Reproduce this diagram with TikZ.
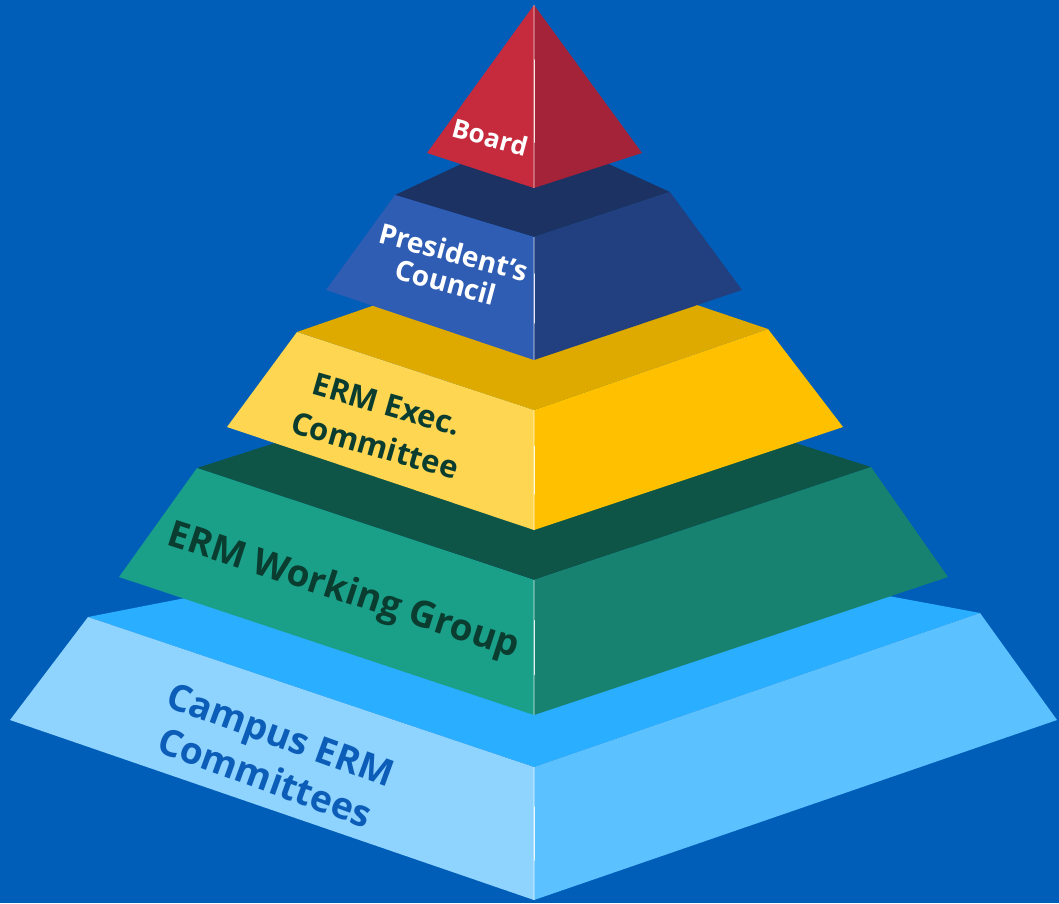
\documentclass[tikz,border=0pt]{standalone}
\usepackage{fontspec}
\setmainfont{Open Sans}
\usetikzlibrary{calc}
\definecolor{bgblue}{HTML}{005EB8}
\definecolor{bdL}{HTML}{C62A3D}
\definecolor{bdR}{HTML}{A42338}
\definecolor{prT}{HTML}{1C3263}
\definecolor{prL}{HTML}{2F5DB4}
\definecolor{prR}{HTML}{22407F}
\definecolor{exT}{HTML}{DEAA00}
\definecolor{exL}{HTML}{FED652}
\definecolor{exR}{HTML}{FFC000}
\definecolor{wgT}{HTML}{0E5547}
\definecolor{wgL}{HTML}{1A9F89}
\definecolor{wgR}{HTML}{16826F}
\definecolor{caT}{HTML}{2AAEFF}
\definecolor{caL}{HTML}{8FD3FF}
\definecolor{caR}{HTML}{5CC2FF}
\definecolor{darkgreen}{HTML}{0A3D30}
\definecolor{campustxt}{HTML}{0B5DB8}
\begin{document}
\begin{tikzpicture}[x=1pt,y=-1pt,
  lbl/.style={align=center, inner sep=0pt},
  hlsoft/.style={white, line width=1.6pt, opacity=0.3},
  hlbright/.style={white, line width=1pt, opacity=0.85, line cap=round}]
\fill[bgblue] (0,0) rectangle (1059,903);
\useasboundingbox (0,0) rectangle (1059,903);

% ---------- Campus ERM Committees ----------
\coordinate (cTL) at (88,617);
\coordinate (cTR) at (980,613);
\coordinate (cTF) at (534,767);
\coordinate (cTB) at (534,530);
\coordinate (cBL) at (10,720);
\coordinate (cBR) at (1057,720);
\coordinate (cBF) at (534,900);
\fill[caT] (cTL) -- (cTB) -- (cTR) -- (cTF) -- cycle;
\fill[caL] (cTL) -- (cTF) -- (cBF) -- (cBL) -- cycle;
\fill[caR] (cTF) -- (cTR) -- (cBR) -- (cBF) -- cycle;
\draw[hlsoft] (cTF) -- (cBF);
\draw[hlbright] ($(cTF)!0.3!(cBF)$) -- ($(cTF)!0.7!(cBF)$);

% ---------- ERM Working Group ----------
\coordinate (wTL) at (197,468);
\coordinate (wTR) at (871,467);
\coordinate (wTF) at (534,580);
\coordinate (wTB) at (534,360);
\coordinate (wBL) at (119,577);
\coordinate (wBR) at (948,577);
\coordinate (wBF) at (534,715);
\fill[wgT] (wTL) -- (wTB) -- (wTR) -- (wTF) -- cycle;
\fill[wgL] (wTL) -- (wTF) -- (wBF) -- (wBL) -- cycle;
\fill[wgR] (wTF) -- (wTR) -- (wBR) -- (wBF) -- cycle;
\draw[hlsoft] (wTF) -- (wBF);
\draw[hlbright] ($(wTF)!0.3!(wBF)$) -- ($(wTF)!0.7!(wBF)$);

% ---------- ERM Exec. Committee ----------
\coordinate (eTL) at (297,332);
\coordinate (eTR) at (768,329);
\coordinate (eTF) at (534,410);
\coordinate (eTB) at (534,250);
\coordinate (eBL) at (227,427);
\coordinate (eBR) at (843,427);
\coordinate (eBF) at (534,530);
\fill[exT] (eTL) -- (eTB) -- (eTR) -- (eTF) -- cycle;
\fill[exL] (eTL) -- (eTF) -- (eBF) -- (eBL) -- cycle;
\fill[exR] (eTF) -- (eTR) -- (eBR) -- (eBF) -- cycle;
\draw[hlsoft] (eTF) -- (eBF);
\draw[hlbright] ($(eTF)!0.3!(eBF)$) -- ($(eTF)!0.7!(eBF)$);

% ---------- President's Council ----------
\coordinate (pTL) at (395,195);
\coordinate (pTR) at (670,192);
\coordinate (pTF) at (534,237);
\coordinate (pTB) at (534,130);
\coordinate (pBL) at (326,290);
\coordinate (pBR) at (742,290);
\coordinate (pBF) at (534,360);
\fill[prT] (pTL) -- (pTB) -- (pTR) -- (pTF) -- cycle;
\fill[prL] (pTL) -- (pTF) -- (pBF) -- (pBL) -- cycle;
\fill[prR] (pTF) -- (pTR) -- (pBR) -- (pBF) -- cycle;
\draw[hlsoft] (pTF) -- (pBF);
\draw[hlbright] ($(pTF)!0.3!(pBF)$) -- ($(pTF)!0.7!(pBF)$);

% ---------- Board ----------
\coordinate (bA) at (534,5);
\coordinate (bL) at (427,153);
\coordinate (bF) at (534,188);
\coordinate (bR) at (642,153);
\fill[bdL] (bA) -- (bL) -- (bF) -- cycle;
\fill[bdR] (bA) -- (bF) -- (bR) -- cycle;
\draw[hlsoft] (bA) -- (bF);
\draw[hlbright] ($(bA)!0.3!(bF)$) -- ($(bA)!0.75!(bF)$);

% ---------- Labels ----------
\node[lbl, white, rotate=-15, font={\bfseries\fontsize{26}{30}\selectfont}] (board) at (490,137) {Board};
\node[lbl, white, rotate=-15, font={\bfseries\fontsize{28}{31}\selectfont}] (pres) at (450,267) {President’s\\Council};
\node[lbl, darkgreen, rotate=-16, font={\bfseries\fontsize{31}{43}\selectfont}] (exec) at (381,425) {ERM Exec.\\Committee};
\node[lbl, darkgreen, rotate=-18, font={\bfseries\fontsize{37}{42}\selectfont}] (wg) at (343,592) {ERM Working Group};
\node[lbl, campustxt, rotate=-20, font={\bfseries\fontsize{37}{46}\selectfont}] (campus) at (273,756) {Campus ERM\\Committees};
\end{tikzpicture}
\end{document}
